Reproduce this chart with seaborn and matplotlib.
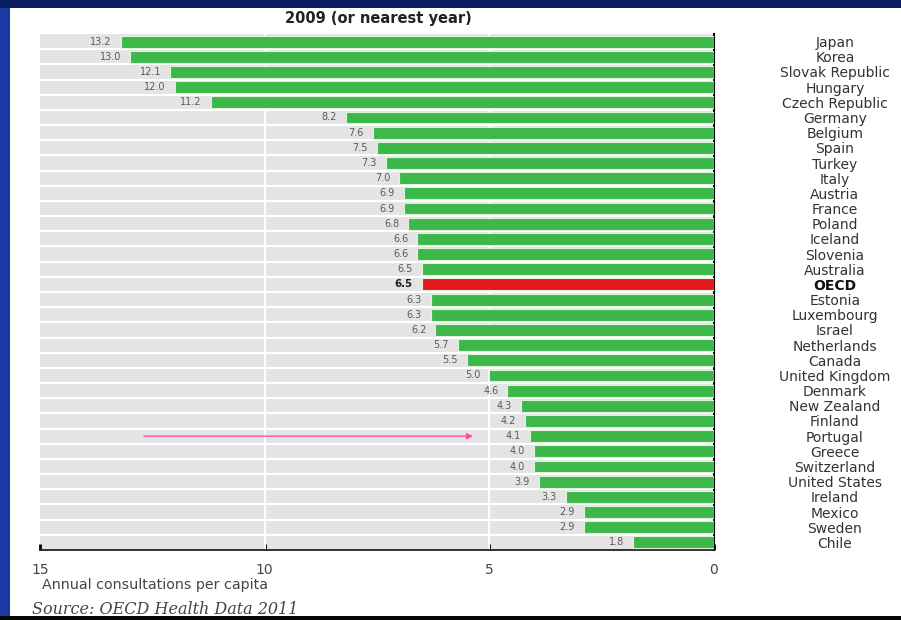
import numpy as np
import pandas as pd
import matplotlib
matplotlib.use("Agg")
import matplotlib.pyplot as plt
from matplotlib.patches import Rectangle
from matplotlib.ticker import FixedLocator
import seaborn as sns

# ===================== DATA =====================
countries = [
    "Japan", "Korea", "Slovak Republic", "Hungary", "Czech Republic",
    "Germany", "Belgium", "Spain", "Turkey", "Italy", "Austria", "France",
    "Poland", "Iceland", "Slovenia", "Australia", "OECD", "Estonia",
    "Luxembourg", "Israel", "Netherlands", "Canada", "United Kingdom",
    "Denmark", "New Zealand", "Finland", "Portugal", "Greece",
    "Switzerland", "United States", "Ireland", "Mexico", "Sweden", "Chile",
]
consultations = [
    13.2, 13.0, 12.1, 12.0, 11.2, 8.2, 7.6, 7.5, 7.3, 7.0, 6.9, 6.9,
    6.8, 6.6, 6.6, 6.5, 6.5, 6.3, 6.3, 6.2, 5.7, 5.5, 5.0, 4.6, 4.3,
    4.2, 4.1, 4.0, 4.0, 3.9, 3.3, 2.9, 2.9, 1.8,
]
highlight = "OECD"
arrow_target = "Portugal"
x_ticks = [15, 10, 5, 0]

df = pd.DataFrame({"country": countries, "value": consultations})
df["group"] = np.where(df["country"] == highlight, "avg", "country")

# ===================== STYLE =====================
sns.set_style("white")
plt.rcParams["font.family"] = ["DejaVu Sans"]

GREEN = "#3cb84a"
RED = "#e3191f"
GREY_BG = "#e4e4e4"
TEXT = "#444444"

W, H = 901, 620
fig = plt.figure(figsize=(W / 100, H / 100), dpi=100)
fig.patch.set_facecolor("#0b1d5e")

# slide frame: white panel, blue left strip, black bottom strip
fig.patches.append(Rectangle((10 / W, 3 / H), 891 / W, 609 / H,
                             transform=fig.transFigure, facecolor="white",
                             edgecolor="none", zorder=-2))
fig.patches.append(Rectangle((0, 0), 10 / W, 612 / H,
                             transform=fig.transFigure, facecolor="#1c3aa6",
                             edgecolor="none", zorder=-2))
fig.patches.append(Rectangle((0, 0), 1, 4 / H,
                             transform=fig.transFigure, facecolor="#050505",
                             edgecolor="none", zorder=10))

ax = fig.add_axes([40 / W, (H - 550) / H, 674 / W, (550 - 34) / H])
ax.set_zorder(1)
ax.set_facecolor(GREY_BG)

# ===================== BARS =====================
sns.barplot(data=df, x="value", y="country", hue="group", orient="h",
            palette={"country": GREEN, "avg": RED}, saturation=1,
            width=0.78, edgecolor="#dff3da", linewidth=0.8, legend=False,
            ax=ax, zorder=3)

n = len(countries)
ax.set_xlim(15, 0)
ax.set_ylim(n - 0.5, -0.5)

# row separators and vertical grid
for b in np.arange(0.5, n - 0.5, 1.0):
    ax.axhline(b, color="white", lw=1.5, zorder=1)
for xv in [10, 5]:
    ax.axvline(xv, color="white", lw=1.4, zorder=1)

# value labels
for i, (c, v) in enumerate(zip(countries, consultations)):
    bold = c == highlight
    ax.text(v + 0.2, i, f"{v:.1f}", ha="right", va="center",
            fontsize=7.4 if bold else 7,
            fontweight="bold" if bold else "normal",
            color="#222222" if bold else "#5a5a5a", zorder=4)

# arrow to the highlighted country
yi = countries.index(arrow_target)
ax.annotate("", xy=(consultations[yi] + 1.2, yi), xytext=(12.75, yi),
            arrowprops=dict(arrowstyle="-|>", color="#ff4fa3", lw=1.0,
                            mutation_scale=9), zorder=5)

# ===================== AXES =====================
for s in ["top", "left"]:
    ax.spines[s].set_visible(False)
ax.spines["right"].set_color("black")
ax.spines["right"].set_linewidth(1.5)
ax.spines["bottom"].set_color("#222222")
ax.spines["bottom"].set_linewidth(1.3)

ax.set_xticks(x_ticks)
ax.set_xticklabels([str(t) for t in x_ticks], fontsize=10, color=TEXT)
ax.tick_params(axis="x", direction="in", length=4, width=2,
               color="black", pad=9, bottom=True)

ax.yaxis.tick_right()
ax.set_yticks(range(n))
ax.set_yticklabels(countries, fontsize=10, color="#333333", ha="center")
for lbl in ax.get_yticklabels():
    if lbl.get_text() == highlight:
        lbl.set_fontweight("bold")
        lbl.set_color("#111111")
ax.tick_params(axis="y", which="major", length=0, pad=87)
ax.yaxis.set_minor_locator(FixedLocator(np.arange(0.5, n - 0.5, 1.0)))
ax.tick_params(axis="y", which="minor", direction="in", length=6,
               width=1.2, color="black", right=True, left=False)

ax.set_xlabel("")
ax.set_ylabel("")

# ===================== TEXT =====================
fig.text(378 / W, 1 - 18 / H, "2009 (or nearest year)", ha="center",
         va="center", fontsize=10.5, fontweight="bold", color="#222222")
fig.text(42 / W, 1 - 585 / H, "Annual consultations per capita",
         ha="left", va="center", fontsize=10.3, color=TEXT)
fig.text(32 / W, 1 - 610 / H, "Source: OECD Health Data 2011",
         ha="left", va="center", fontsize=11.5, style="italic",
         family=["DejaVu Serif"], color=TEXT, zorder=5)

fig.savefig("out.png", dpi=100, facecolor=fig.get_facecolor())
